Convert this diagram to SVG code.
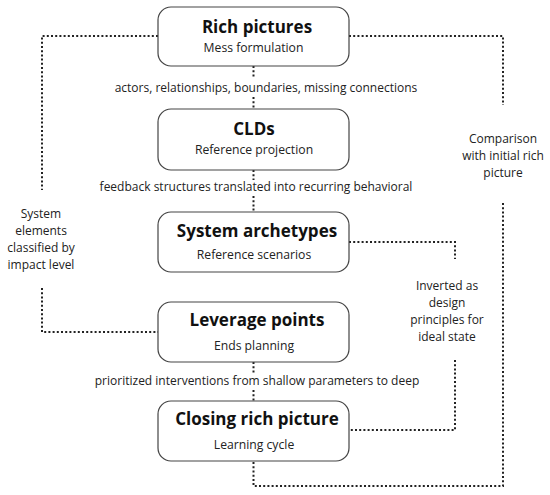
<svg xmlns="http://www.w3.org/2000/svg" width="550" height="495" viewBox="0 0 550 495">
<style>
.box{fill:#fff;stroke:#444;stroke-width:1.2}
.t{font-family:"Open Sans","Noto Sans",sans-serif;font-weight:700;font-size:17px;fill:#111;text-anchor:middle}
.s{font-family:"Open Sans","Noto Sans",sans-serif;font-size:12.2px;fill:#222;text-anchor:middle}
.l{font-family:"Open Sans","Noto Sans",sans-serif;font-size:12px;fill:#222;text-anchor:middle}
.d{fill:none;stroke:#222;stroke-width:2;stroke-dasharray:2 2.2}
</style>
<rect width="550" height="495" fill="#fff"/>
<g id="connectors">
<path class="d" d="M253.5,66V78M253.5,97V109"/>
<path class="d" d="M253.5,170V180M253.5,196V212"/>
<path class="d" d="M253.5,362V374M253.5,390V401"/>
<path class="d" d="M158,36H42V190M42,288V332H158"/>
<path class="d" d="M349,36H503V105M503,203V486H253.5V461"/>
<path class="d" d="M349,242H455V259M455,360V430H349"/>
<text class="l" x="266" y="92">actors, relationships, boundaries, missing connections</text>
<text class="l" x="256" y="191">feedback structures translated into recurring behavioral</text>
<text class="l" x="257" y="385">prioritized interventions from shallow parameters to deep</text>
<text class="l" x="41"><tspan x="41" y="218">System</tspan><tspan x="41" y="235">elements</tspan><tspan x="41" y="252">classified by</tspan><tspan x="41" y="269">impact level</tspan></text>
<text class="l" x="503"><tspan x="503" y="143">Comparison</tspan><tspan x="503" y="160">with initial rich</tspan><tspan x="503" y="177">picture</tspan></text>
<text class="l" x="447"><tspan x="447" y="290">Inverted as</tspan><tspan x="447" y="307">design</tspan><tspan x="447" y="324">principles for</tspan><tspan x="447" y="341">ideal state</tspan></text>
</g>
<g id="rich-pictures">
<rect class="box" x="158" y="7" width="191" height="59" rx="13"/>
<text class="t" x="257" y="33">Rich pictures</text>
<text class="s" x="253.5" y="52">Mess formulation</text>
</g>
<g id="clds">
<rect class="box" x="158" y="109" width="191" height="61" rx="13"/>
<text class="t" x="254" y="135">CLDs</text>
<text class="s" x="254" y="154">Reference projection</text>
</g>
<g id="system-archetypes">
<rect class="box" x="158" y="212" width="191" height="60" rx="13"/>
<text class="t" x="257" y="237">System archetypes</text>
<text class="s" x="254" y="259">Reference scenarios</text>
</g>
<g id="leverage-points">
<rect class="box" x="158" y="302" width="191" height="60" rx="13"/>
<text class="t" x="257" y="326">Leverage points</text>
<text class="s" x="254" y="350">Ends planning</text>
</g>
<g id="closing-rich-picture">
<rect class="box" x="158" y="401" width="191" height="60" rx="13"/>
<text class="t" x="257" y="425">Closing rich picture</text>
<text class="s" x="254" y="449">Learning cycle</text>
</g>
</svg>
